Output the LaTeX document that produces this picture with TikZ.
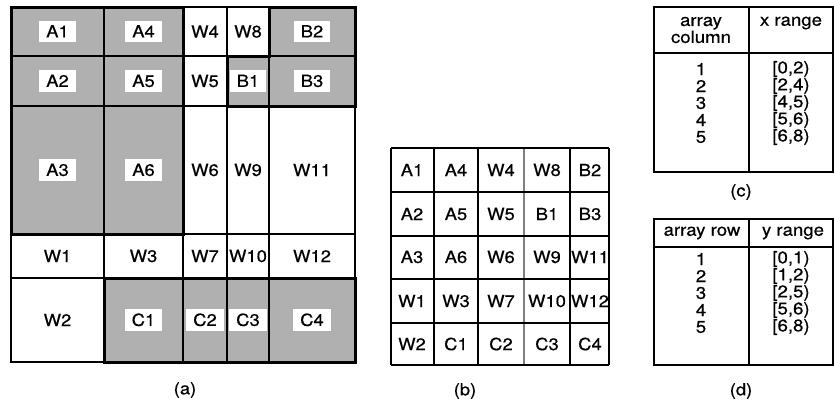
\documentclass[tikz,border=0pt]{standalone}
\usepackage{fontspec}
\setmainfont{TeX Gyre Heros}[FakeStretch=1.1,FakeBold=0.5]
\definecolor{cellgray}{RGB}{176,176,176}

\begin{document}
\begin{tikzpicture}
	[x=1bp,y=-1bp,line width=1.1bp,every node/.style={font=\fontsize{16.8}{17}\selectfont, inner sep=0pt},
	 tag/.style={fill=white, inner xsep=7bp, inner ysep=5bp, text height=11.8bp, text depth=0pt},
	 bare/.style={},
	 tab/.style={font=\fontsize{17}{17}\selectfont},
	 frame/.style={line width=3bp}]
	\useasboundingbox (0,0) rectangle (835,409);

	\foreach \n/\xa/\ya/\xb/\yb/\c/\s in {
		A1/11/7/104/56/cellgray/tag, A4/104/7/183/56/cellgray/tag, W4/183/7/227/56/white/bare, W8/227/7/269/56/white/bare, B2/269/7/355/56/cellgray/tag,
		A2/11/56/104/106/cellgray/tag, A5/104/56/183/106/cellgray/tag, W5/183/56/227/106/white/bare, B1/227/56/269/106/cellgray/tag, B3/269/56/355/106/cellgray/tag,
		A3/11/106/104/234/cellgray/tag, A6/104/106/183/234/cellgray/tag, W6/183/106/227/234/white/bare, W9/227/106/269/234/white/bare, W11/269/106/355/234/white/bare,
		W1/11/234/104/278/white/bare, W3/104/234/183/278/white/bare, W7/183/234/227/278/white/bare, W10/227/234/269/278/white/bare, W12/269/234/355/278/white/bare,
		W2/11/278/104/362/white/bare, C1/104/278/183/362/cellgray/tag, C2/183/278/227/362/cellgray/tag, C3/227/278/269/362/cellgray/tag, C4/269/278/355/362/cellgray/tag}
	{
		\filldraw[fill=\c] (\xa,\ya) rectangle (\xb,\yb);
		\node[\s] (\n) at ({(\xa+\xb)/2},{(\ya+\yb)/2}) {\n};
	}
	\draw[frame] (11,7) rectangle (183,234);
	\draw[frame] (269,7) -- (355,7) -- (355,106) -- (227,106) -- (227,56) -- (269,56) -- cycle;
	\draw[frame] (104,278) rectangle (355,362);
	\node (capa) at (185,390) {(a)};

	\foreach \x in {391,434,478,570,609}
		\draw (\x,148) -- (\x,365);
	\draw[gray] (524,148) -- (524,365);
	\foreach \y in {148,192,236,279,323,365}
		\draw (391,\y) -- (609,\y);
	\foreach \n/\x/\y in {
		A1/412/170, A4/456/170, W4/501/170, W8/547/170, B2/590/170,
		A2/412/214, A5/456/214, W5/501/214, B1/547/214, B3/590/214,
		A3/412/257, A6/456/257, W6/501/257, W9/547/257, W11/590/257,
		W1/412/301, W3/456/301, W7/501/301, W10/547/301, W12/590/301,
		W2/412/344, C1/456/344, C2/501/344, C3/547/344, C4/590/344}
		\node (b\n) at (\x,\y) {\n};
	\node (capb) at (465,391) {(b)};

	\draw (654,7) rectangle (833,172);
	\draw (654,53) -- (833,53);
	\draw (749,7) -- (749,172);
	\node[tab, align=center] (ccol) at (701,30) {array\\column};
	\node[tab] (crng) at (791,23) {x range};
	\foreach \k/\r [count=\i] in {1/{[0,2)}, 2/{[2,4)}, 3/{[4,5)}, 4/{[5,6)}, 5/{[6,8)}}
	{
		\node[tab] (ck\i) at (701,52+17*\i) {\k};
		\node[tab] (cr\i) at (791,52+17*\i) {\r};
	}
	\node (capc) at (741,192) {(c)};

	\draw (654,219) rectangle (833,365);
	\draw (654,247) -- (833,247);
	\draw (749,219) -- (749,365);
	\node[tab] (drow) at (702,233) {array row};
	\node[tab] (drng) at (793,233) {y range};
	\foreach \k/\r [count=\i] in {1/{[0,1)}, 2/{[1,2)}, 3/{[2,5)}, 4/{[5,6)}, 5/{[6,8)}}
	{
		\node[tab] (dk\i) at (701,242+17*\i) {\k};
		\node[tab] (dr\i) at (791,242+17*\i) {\r};
	}
	\node (capd) at (741,391) {(d)};
\end{tikzpicture}
\end{document}
